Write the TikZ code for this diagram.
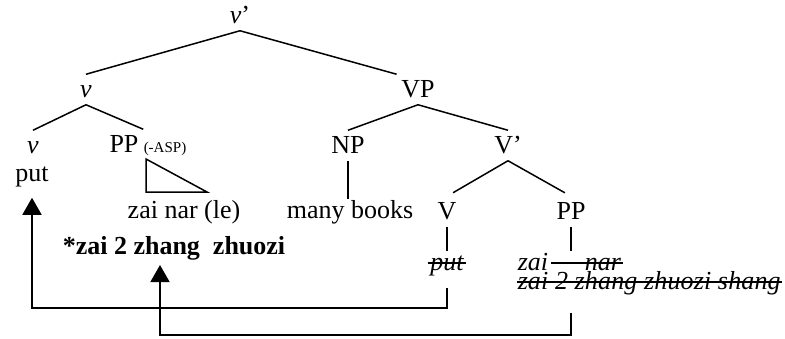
\documentclass[tikz,border=0pt]{standalone}
\usepackage{fontspec}
\setmainfont{Liberation Serif}
\usetikzlibrary{arrows.meta}
\begin{document}
\begin{tikzpicture}[x = 1pt, y = -1pt, line width = 1.5pt,
  cat/.style = {anchor = base, inner sep = 4pt, text height = 18pt, text depth = 3pt, font = \fontsize{26}{30}\selectfont},
  word/.style = {anchor = base, inner sep = 4pt, text height = 14pt, text depth = 6pt, font = \fontsize{26}{30}\selectfont},
  gone/.style = {anchor = base west, inner sep = 0pt, text height = 12pt, text depth = 4pt, font = \fontsize{26}{30}\selectfont\itshape},
  strike/.style = {line width = 1.1pt},
  movearrow/.style = {line width = 1.5pt, -{Triangle[length = 17pt, width = 19pt]}}]
\useasboundingbox (0,0) rectangle (785,338);
\node[cat] (vtop) at (240,23) {\textit{v}’};
\node[cat] (vbar) at (86,97) {\textit{v}};
\node[cat] (vp) at (418,97) {VP};
\node[cat] (vhead) at (33,153) {\textit{v}};
\node[word] (put) at (32,181) {put};
\node[cat] (pp) at (124,152) {PP};
\node[anchor = base west, inner sep = 0pt, font = \fontsize{15}{18}\selectfont] (asp) at (143,152) {(-ASP)};
\node[cat] (np) at (348,153) {NP};
\node[cat] (vpbar) at (508,153) {V’};
\node[word] (zainar) at (184,218) {zai nar (le)};
\node[word] (many) at (350,218) {many books};
\node[cat] (vv) at (447,219) {V};
\node[cat] (pp2) at (571,219) {PP};
\node[word, anchor = base west, font = \fontsize{26}{30}\selectfont\bfseries] (star) at (58,254) {*zai 2 zhang\ \ zhuozi};
\node[gone, anchor = base] (vput) at (447,270) {put};
\node[gone] (zai) at (517,270) {zai};
\node[gone] (nar) at (584,270) {nar};
\node[gone, font = \fontsize{26}{30}\selectfont\itshape\addfontfeature{LetterSpace = 0.6}] (shang) at (517,289) {zai 2 zhang zhuozi shang};
\coordinate (c1) at (447,308);
\coordinate (c2) at (571,335);
\coordinate (zhang) at (160,265);
\draw (vtop.south) -- (vbar.north);
\draw (vtop.south) -- (vp.north west);
\draw (vbar.south) -- (vhead.north);
\draw (vbar.south) -- (pp.north east);
\draw (vp.south) -- (np.north);
\draw (vp.south) -- (vpbar.north);
\draw[shorten > = 7pt] (vpbar.south) -- (vv.north);
\draw[shorten > = 7pt] (vpbar.south) -- (pp2.north);
\draw (np.south) -- (np.south |- many.north);
\draw[shorten > = 6pt] (vv.south) -- (vv |- vput.north);
\draw[shorten > = 6pt] (pp2.south) -- (pp2 |- zai.north);
\draw (146,159) -- (146,192) -- (207,192) -- cycle;
\draw[strike] ([xshift = -2pt, yshift = 7pt]vput.base west) -- ([xshift = 2pt, yshift = 7pt]vput.base east);
\draw[strike] ([xshift = 2pt, yshift = 7pt]zai.base east) -- ([xshift = 1pt, yshift = 7pt]nar.base east);
\draw[strike] ([yshift = 7pt]shang.base west) -- ([yshift = 7pt]shang.base east);
\draw[movearrow, shorten < = 13pt, shorten > = 6pt] (vput.south) -- (c1) -| (put.south);
\draw[movearrow, shorten < = 19pt] (pp2 |- shang.south) -- (c2) -| (zhang);
\end{tikzpicture}
\end{document}
